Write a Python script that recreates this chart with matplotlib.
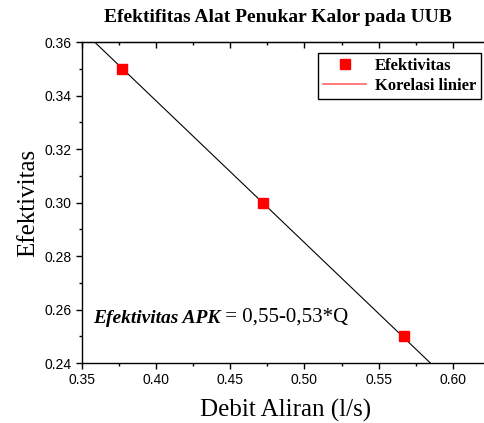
import numpy as np
import matplotlib.pyplot as plt
from matplotlib.lines import Line2D
from matplotlib.ticker import MultipleLocator

debit = [0.377, 0.472, 0.567]
efektivitas = [0.35, 0.30, 0.25]
fit_a, fit_b = 0.55, -0.53
x_ticks = [0.35, 0.40, 0.45, 0.50, 0.55, 0.60]
y_ticks = [0.24, 0.26, 0.28, 0.30, 0.32, 0.34, 0.36]

serif = 'Liberation Serif'
sans = 'Liberation Sans'

fig = plt.figure(figsize=(4.85, 4.23), dpi=100)
ax = fig.add_axes([0.169, 0.1418, 0.841, 0.7589])

q = np.array([0.34, 0.62])
ax.plot(q, fit_a + fit_b * q, color='black', linewidth=0.8)
ax.plot(debit, efektivitas, 's', color='red', markersize=7, linestyle='none')

ax.set_xlim(0.35, 0.625)
ax.set_ylim(0.24, 0.36)
ax.set_xticks(x_ticks)
ax.set_yticks(y_ticks)
ax.set_xticklabels([f'{v:.2f}' for v in x_ticks], fontfamily=sans, fontsize=10)
ax.set_yticklabels([f'{v:.2f}' for v in y_ticks], fontfamily=sans, fontsize=10)
ax.xaxis.set_minor_locator(MultipleLocator(0.025))
ax.yaxis.set_minor_locator(MultipleLocator(0.01))
ax.tick_params(which='both', direction='out', width=1)
ax.tick_params(which='major', length=4)
ax.tick_params(which='minor', length=2.5)
for s in ax.spines.values():
    s.set_linewidth(1)

# top and right ticks point inward
top = ax.secondary_xaxis('top')
top.set_xticks(x_ticks)
top.xaxis.set_minor_locator(MultipleLocator(0.025))
top.tick_params(which='both', direction='in', labeltop=False, width=1)
top.tick_params(which='major', length=4)
top.tick_params(which='minor', length=2.5)
right = ax.secondary_yaxis('right')
right.set_yticks(y_ticks)
right.yaxis.set_minor_locator(MultipleLocator(0.01))
right.tick_params(which='both', direction='in', labelright=False, width=1)
right.tick_params(which='major', length=4)
right.tick_params(which='minor', length=2.5)

ax.set_xlabel('Debit Aliran (l/s)', fontfamily=serif, fontsize=18, labelpad=8)
ax.set_ylabel('Efektivitas', fontfamily=serif, fontsize=18, labelpad=4)
fig.text(278 / 485, 1 - 18 / 423, 'Efektifitas Alat Penukar Kalor pada UUB',
         ha='center', va='center', fontfamily=serif, fontsize=14, fontweight='bold')

handles = [Line2D([], [], marker='s', color='red', linestyle='none', markersize=7),
           Line2D([], [], color='#ff6666', linewidth=1.2)]
leg = ax.legend(handles, ['Efektivitas', 'Korelasi linier'], loc='upper right',
                bbox_to_anchor=(0.978, 0.965), fancybox=False, framealpha=1,
                edgecolor='black', borderpad=0.3, labelspacing=0.2,
                handlelength=2.6, handletextpad=0.5, borderaxespad=0,
                prop={'family': serif, 'weight': 'bold', 'size': 12})
leg.get_frame().set_linewidth(1)

t1 = ax.text(0.027, 0.125, 'Efektivitas APK', transform=ax.transAxes,
             fontfamily=serif, fontsize=14, fontweight='bold', fontstyle='italic',
             va='baseline')
ax.annotate(' = 0,55-0,53*Q', xy=(1, 0), xycoords=t1, va='bottom',
            fontfamily=serif, fontsize=15)
fig.savefig('out.png', dpi=100)
